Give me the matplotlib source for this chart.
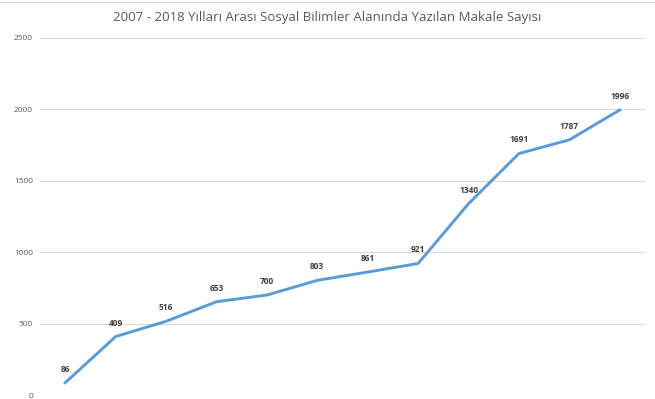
import numpy as np
import matplotlib.pyplot as plt
from matplotlib.lines import Line2D

# Yillar ve makale sayilari
years = ['2007', '2008', '2009', '2010', '2011', '2012',
         '2013', '2014', '2015', '2016', '2017', '2018']
counts = [86, 409, 516, 653, 700, 803, 861, 921, 1340, 1691, 1787, 1996]
yticks = [0, 500, 1000, 1500, 2000, 2500]

plt.rcParams['font.family'] = ['Open Sans', 'DejaVu Sans']

fig = plt.figure(figsize=(6.55, 3.99), dpi=100)
ax = fig.add_axes([40/655, 4/399, 605/655, 357/399])

x = np.arange(len(years))
ax.plot(x, counts, color='#5B9BD5', linewidth=2.1, solid_joinstyle='round')

for xi, v in zip(x, counts):
    ax.annotate(str(v), (xi, v), xytext=(0, 6.5), textcoords='offset points',
                ha='center', va='bottom', fontsize=6, fontweight='bold',
                color='#404040')

ax.set_xlim(-0.5, len(years) - 0.5)
ax.set_ylim(0, 2500)
ax.set_yticks(yticks)
ax.set_yticklabels([str(t) for t in yticks], fontsize=6, color='#595959')
ax.set_xticks([])
ax.grid(axis='y', color='#D9D9D9', linewidth=0.8)
ax.set_axisbelow(True)
for s in ax.spines.values():
    s.set_visible(False)
ax.tick_params(axis='y', length=0, pad=5)

fig.text(0.5, 1 - 18/399, '2007 - 2018 Yılları Arası Sosyal Bilimler Alanında Yazılan Makale Sayısı',
         ha='center', va='center', fontsize=9.5, color='#595959')

# ust kenar cizgisi
fig.add_artist(Line2D([0, 1], [1 - 2/399, 1 - 2/399], color='#D9D9D9', linewidth=0.8))

fig.savefig('out.png', dpi=100)
